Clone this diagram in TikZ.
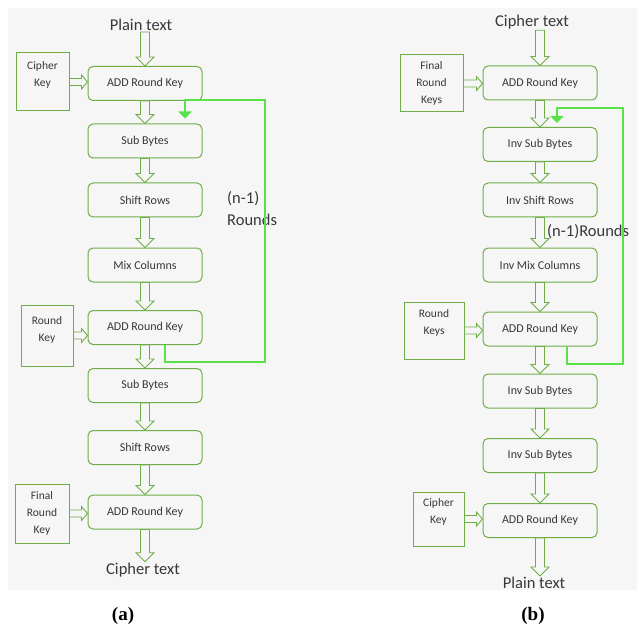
\documentclass[tikz,border=0pt]{standalone}
\usepackage{fontspec}
\usepackage{xcolor}
\usepackage{tikz}
\usetikzlibrary{arrows.meta,calc,positioning}
\newfontfamily\boxfont{Carlito}
\newfontfamily\captfont{Liberation Serif}
\definecolor{boxgreen}{RGB}{112,173,71}
\definecolor{loopgreen}{RGB}{88,226,72}
\definecolor{bggray}{RGB}{246,246,246}
\definecolor{txtgray}{RGB}{55,55,60}

\newcommand{\hollowdown}[2]{%
  \draw[hollow] let \p1=(#1), \p2=(#2) in
    (\x1-4.5,\y1) -- (\x1-4.5,\y2+9) -- (\x1-9,\y2+9) -- (\x1,\y2)
    -- (\x1+9,\y2+9) -- (\x1+4.5,\y2+9) -- (\x1+4.5,\y1) -- cycle;}
\newcommand{\hollowright}[2]{%
  \draw[hollow] let \p1=(#1), \p2=(#2) in
    (\x1,\y1-3.5) -- (\x2-6,\y1-3.5) -- (\x2-6,\y1-7) -- (\x2,\y1)
    -- (\x2-6,\y1+7) -- (\x2-6,\y1+3.5) -- (\x1,\y1+3.5) -- cycle;}

\begin{document}
\begin{tikzpicture}[x=1pt,y=-1pt,
  stage/.style={draw=boxgreen,line width=1pt,rounded corners=5pt,minimum width=114pt,
    minimum height=34pt,inner sep=0pt,text=txtgray,font=\boxfont\fontsize{12}{13}\selectfont},
  keybox/.style={draw=boxgreen,line width=1pt,align=center,inner sep=0pt,text=txtgray,
    font=\boxfont\fontsize{11.5}{17}\selectfont},
  io/.style={text=txtgray,inner sep=1pt,font=\boxfont\fontsize{16.5}{20}\selectfont},
  rounds/.style={text=txtgray,align=left,inner sep=0pt,font=\boxfont\fontsize{16.5}{22}\selectfont},
  capt/.style={font=\captfont\fontsize{19}{21}\selectfont\bfseries},
  hollow/.style={draw=boxgreen,line width=0.9pt,fill=bggray},
  roundpath/.style={draw=loopgreen,line width=2.5pt,-{Triangle[width=13pt,length=7pt]}}]
  \useasboundingbox (0,0) rectangle (639,628);
  \fill[bggray] (8,8) rectangle (637,590);

  \node[io] (a-pt) at (141,25) {Plain text};
  \node[stage] (a-ark1) at (145,83.5) {ADD Round Key};
  \node[stage] (a-sb1) at (145,141) {Sub Bytes};
  \node[stage] (a-sr1) at (145,200) {Shift Rows};
  \node[stage] (a-mc) at (145,265) {Mix Columns};
  \node[stage] (a-ark2) at (145,327.5) {ADD Round Key};
  \node[stage] (a-sb2) at (145,385.5) {Sub Bytes};
  \node[stage] (a-sr2) at (145,447.5) {Shift Rows};
  \node[stage] (a-ark3) at (145,512) {ADD Round Key};
  \node[io] (a-ct) at (143,570) {Cipher text};
  \node[keybox,minimum width=53pt,minimum height=58pt] (a-ck) at (42.5,82) {Cipher\\ Key\\[-1pt]};
  \node[keybox,minimum width=52pt,minimum height=61pt] (a-rk) at (47,335.5) {Round\\ Key\\[-4pt]};
  \node[keybox,minimum width=54pt,minimum height=59pt] (a-frk) at (42,513.5) {Final\\ Round\\ Key};
  \node[rounds,anchor=west] (a-n) at (227,209) {(n-1)\\ Rounds};
  \node[capt] (a-cap) at (123,616) {(a)};

  \coordinate (a-in) at (a-pt.south -| a-ark1.north);
  \coordinate (a-out) at (a-ct.north -| a-ark3.south);
  \hollowdown{a-in}{a-ark1.north}
  \hollowdown{a-ark1.south}{a-sb1.north}
  \hollowdown{a-sb1.south}{a-sr1.north}
  \hollowdown{a-sr1.south}{a-mc.north}
  \hollowdown{a-mc.south}{a-ark2.north}
  \hollowdown{a-ark2.south}{a-sb2.north}
  \hollowdown{a-sb2.south}{a-sr2.north}
  \hollowdown{a-sr2.south}{a-ark3.north}
  \hollowdown{a-ark3.south}{a-out}
  \hollowright{a-ck.east}{a-ark1.west}
  \hollowright{a-rk.east}{a-ark2.west}
  \hollowright{a-frk.east}{a-ark3.west}
  \coordinate (a-c1) at (265,362);
  \coordinate (a-c2) at (265,100);
  \draw[roundpath] ($(a-ark2.south)+(20,0)$) |- (a-c1) -- (a-c2) -| ($(a-sb1.north)+(40,-5)$);

  \node[io] (b-ct) at (532,22) {Cipher text};
  \node[stage] (b-ark1) at (540,83) {ADD Round Key};
  \node[stage] (b-isb1) at (540,144.5) {Inv Sub Bytes};
  \node[stage] (b-isr) at (540,200) {Inv Shift Rows};
  \node[stage] (b-imc) at (540,265) {Inv Mix Columns};
  \node[stage] (b-ark2) at (540,329) {ADD Round Key};
  \node[stage] (b-isb2) at (540,391) {Inv Sub Bytes};
  \node[stage] (b-isb3) at (540,455.5) {Inv Sub Bytes};
  \node[stage] (b-ark3) at (540,520.5) {ADD Round Key};
  \node[io] (b-pt) at (534,583) {Plain text};
  \node[keybox,minimum width=63pt,minimum height=57pt] (b-frk) at (431.5,83.5) {Final\\ Round\\ Keys};
  \node[keybox,minimum width=60pt,minimum height=57pt] (b-rk) at (434,330.5) {Round\\ Keys\\[-1pt]};
  \node[keybox,minimum width=51pt,minimum height=54pt] (b-ck) at (438.5,519) {Cipher\\ Key\\[-1pt]};
  \node[rounds,anchor=west] (b-n) at (547,232) {(n-1)Rounds};
  \node[capt] (b-cap) at (533,616) {(b)};

  \coordinate (b-in) at (b-ct.south -| b-ark1.north);
  \coordinate (b-out) at (b-pt.north -| b-ark3.south);
  \hollowdown{b-in}{b-ark1.north}
  \hollowdown{b-ark1.south}{b-isb1.north}
  \hollowdown{b-isb1.south}{b-isr.north}
  \hollowdown{b-isr.south}{b-imc.north}
  \hollowdown{b-imc.south}{b-ark2.north}
  \hollowdown{b-ark2.south}{b-isb2.north}
  \hollowdown{b-isb2.south}{b-isb3.north}
  \hollowdown{b-isb3.south}{b-ark3.north}
  \hollowdown{b-ark3.south}{b-out}
  \hollowright{b-frk.east}{b-ark1.west}
  \hollowright{b-rk.east}{b-ark2.west}
  \hollowright{b-ck.east}{b-ark3.west}
  \coordinate (b-c1) at (623,364);
  \coordinate (b-c2) at (623,108);
  \draw[roundpath] ($(b-ark2.south)+(27,0)$) |- (b-c1) -- (b-c2) -| ($(b-isb1.north)+(17,-4)$);
\end{tikzpicture}
\end{document}
